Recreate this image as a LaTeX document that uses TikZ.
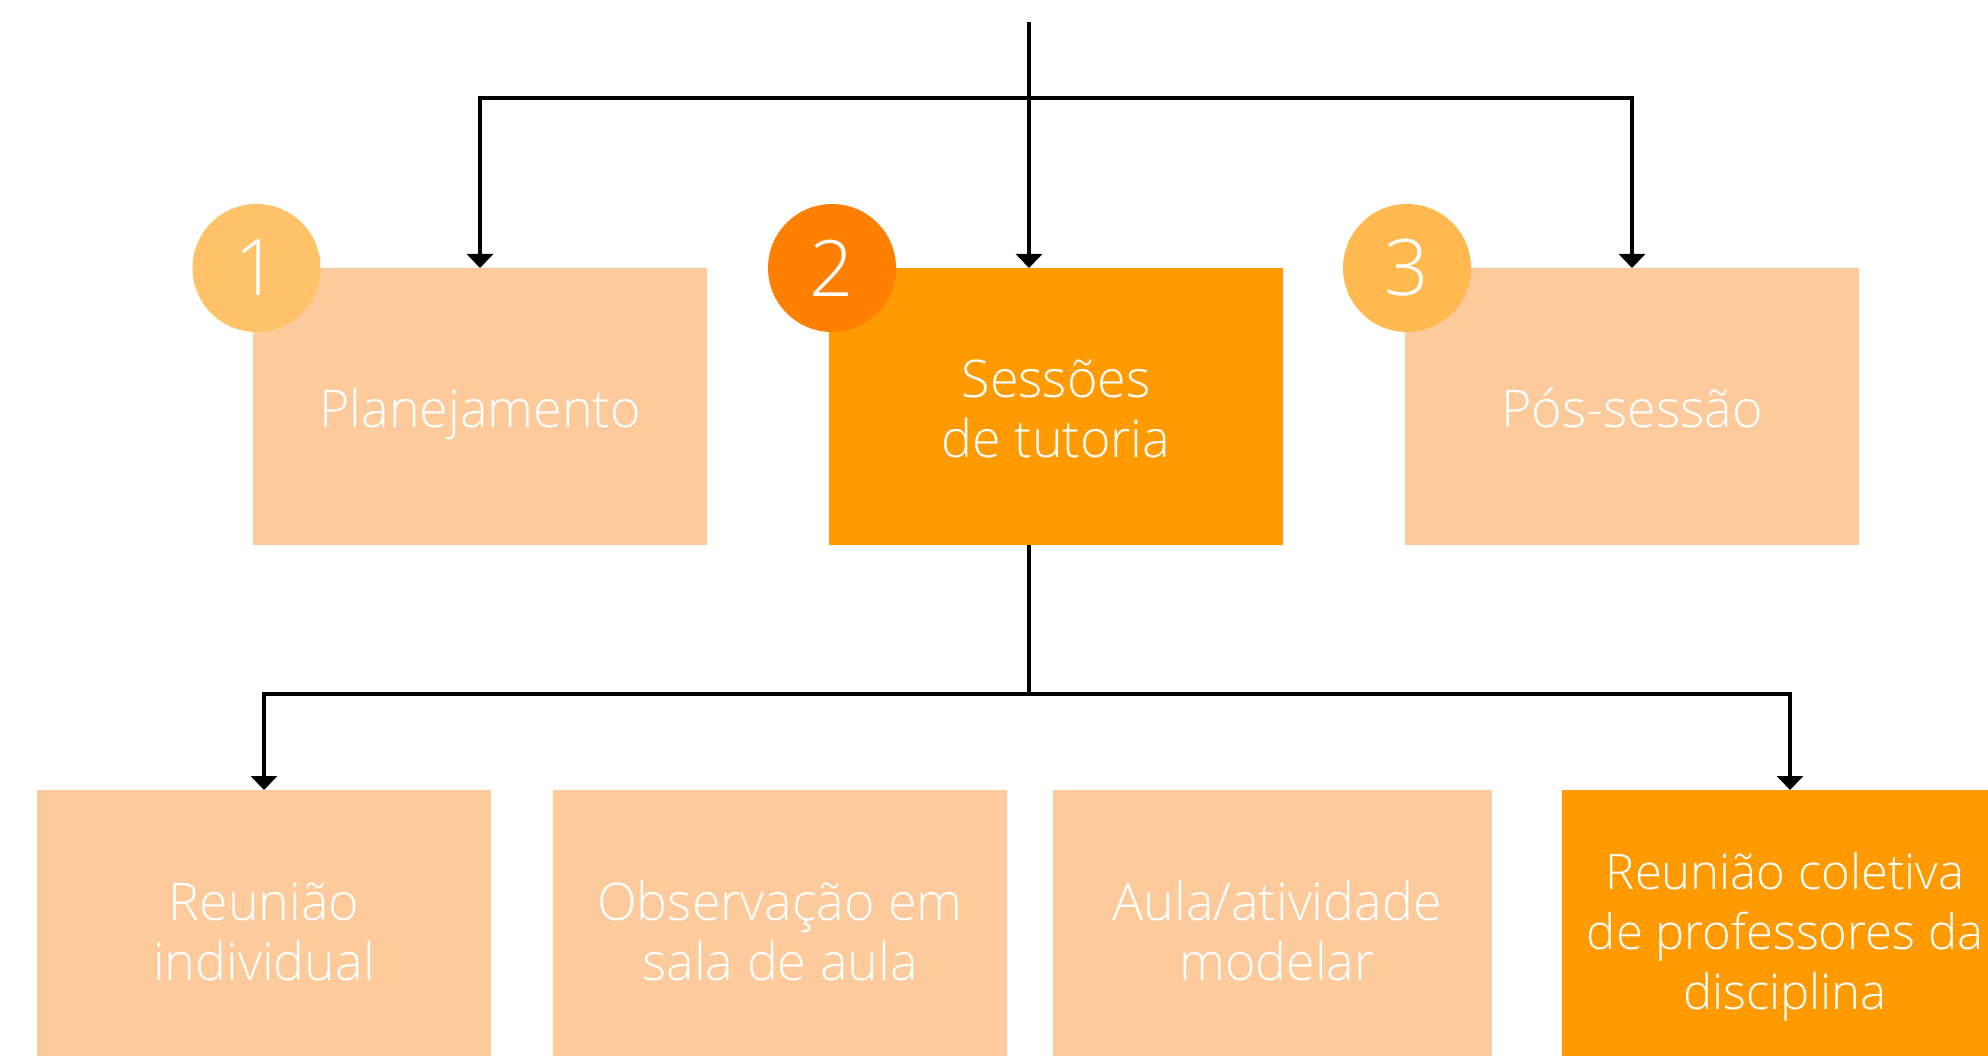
\documentclass[tikz,border=0pt]{standalone}
\usepackage{fontspec}
\setmainfont{Open Sans Light}
\usetikzlibrary{arrows.meta}
\definecolor{peach}{HTML}{FDCB9B}
\definecolor{orng}{HTML}{FF9B00}
\definecolor{circA}{HTML}{FFC268}
\definecolor{circB}{HTML}{FF8000}
\definecolor{circC}{HTML}{FFB94F}
\begin{document}
\begin{tikzpicture}[x=1pt,y=-1pt,
  boxstyle/.style={rectangle, inner sep=0pt, outer sep=0pt, anchor=north west, minimum height=277pt},
  lowbox/.style={rectangle, inner sep=0pt, outer sep=0pt, anchor=north west, minimum height=290pt},
  lbl/.style={text=white, font=\fontsize{52}{60}\selectfont, align=center, anchor=base, inner sep=0pt},
  num/.style={circle, inner sep=0pt, minimum size=128pt, text=white, font=\fontsize{78}{80}\selectfont},
  conn/.style={draw=black, line width=3.5pt},
  arr/.style={conn, -{Triangle[width=26pt,length=14pt]}}]
\useasboundingbox (0,0) rectangle (1988,1056);
\clip (0,0) rectangle (1988,1056);
% top boxes
\node[boxstyle, fill=peach, minimum width=454pt] (b1) at (253,268) {};
\node[boxstyle, fill=orng, minimum width=454pt] (b2) at (829,268) {};
\node[boxstyle, fill=peach, minimum width=454pt] (b3) at (1405,268) {};
% bottom boxes
\node[lowbox, fill=peach, minimum width=454pt] (c1) at (37,790) {};
\node[lowbox, fill=peach, minimum width=454pt] (c2) at (553,790) {};
\node[lowbox, fill=peach, minimum width=439pt] (c3) at (1053,790) {};
\node[lowbox, fill=orng, minimum width=456pt] (c4) at (1562,790) {};
% numbered circles
\node[num, fill=circA] (n1) at (256.5,268) {1};
\node[num, fill=circB] (n2) at (832,268) {2};
\node[num, fill=circC] (n3) at (1407,268) {3};
% labels (anchor base = baseline of the last line)
\node[lbl] (t1) at (480,427) {Planejamento};
\node[lbl] (t2) at (1056,457) {Sessões\\de tutoria};
\node[lbl] (t3) at (1632,427) {Pós-sessão};
\node[lbl] (u1) at (264,980) {Reunião\\individual};
\node[lbl] (u2) at (780,980) {Observação em\\sala de aula};
\node[lbl] (u3) at (1277,980) {Aula/atividade\\modelar};
\node[lbl, font=\fontsize{49}{60}\selectfont] (u4) at (1785,1009) {Reunião coletiva\\de professores da\\disciplina};
% connectors
\coordinate (top) at (1029,22);
\coordinate (hj) at (1029,98);
\draw[arr] (top) -- (top |- b2.north);
\draw[arr] (hj) -| (b1.north);
\draw[arr] (hj) -| (b3.north);
\coordinate (bj) at (b2.south -| top);
\coordinate (bh) at (1029,694);
\draw[conn] (bj) -- (bh);
\draw[arr] (bh) -| (c1.north);
\draw[arr] (bh) -| (c4.north);
\end{tikzpicture}
\end{document}
